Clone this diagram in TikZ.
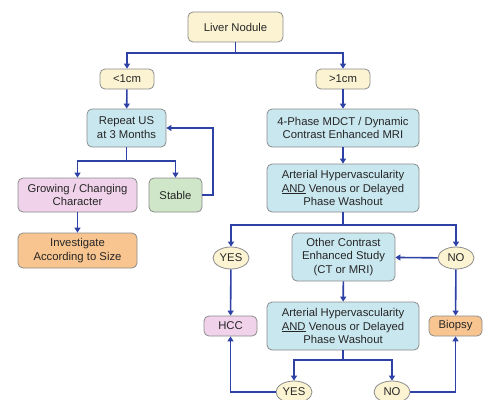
\documentclass[tikz,border=0pt]{standalone}
\usepackage{fontspec}
\setmainfont{Liberation Sans}
\usetikzlibrary{shapes.geometric,arrows.meta}
\definecolor{cream}{HTML}{FBF3D2}
\definecolor{cyanbox}{HTML}{C9E7EF}
\definecolor{pinkbox}{HTML}{F0D3EA}
\definecolor{greenbox}{HTML}{CFE7C8}
\definecolor{orangebox}{HTML}{F8C48F}
\definecolor{edge}{HTML}{8C8C8C}
\definecolor{arrowblue}{HTML}{2E42A6}
\begin{document}
\begin{tikzpicture}[x=1pt,y=-1pt,
  font=\fontsize{11.3}{13.8}\selectfont,
  box/.style={draw=edge,line width=0.8pt,rounded corners=5pt,align=center,inner sep=0pt,text=black!85},
  oval/.style={draw=edge,line width=0.8pt,ellipse,fill=cream,minimum width=36pt,minimum height=22pt,inner sep=0pt,text=black!85},
  arr/.style={draw=arrowblue,line width=1.6pt,-{Triangle[length=5pt,width=6pt]}},
  ln/.style={draw=arrowblue,line width=1.6pt}]
\useasboundingbox (0,0) rectangle (489,399);
\fill[white] (0,0) rectangle (489,399);

\node[box,fill=cream,minimum width=95pt,minimum height=30pt] (liver) at (235.5,27) {Liver Nodule};
\node[box,fill=cream,minimum width=54pt,minimum height=20pt] (lt) at (127,79) {<1cm};
\node[box,fill=cream,minimum width=54pt,minimum height=20pt] (gt) at (343,79) {>1cm};
\node[box,fill=cyanbox,minimum width=79pt,minimum height=38pt] (rep) at (126.5,128) {Repeat US\\at 3 Months};
\node[box,fill=cyanbox,minimum width=152pt,minimum height=38pt] (mdct) at (343,128) {4-Phase MDCT / Dynamic\\Contrast Enhanced MRI};
\node[box,fill=pinkbox,minimum width=119pt,minimum height=34pt] (grow) at (77.5,195) {Growing / Changing\\Character};
\node[box,fill=greenbox,minimum width=53pt,minimum height=34pt] (stab) at (175.5,195) {Stable};
\node[box,fill=orangebox,minimum width=119pt,minimum height=35pt] (inv) at (77.5,250.5) {Investigate\\According to Size};
\node[box,fill=cyanbox,minimum width=152pt,minimum height=48pt] (art1) at (343,188) {Arterial Hypervascularity\\\underline{AND} Venous or Delayed\\Phase Washout};
\node[oval] (yes1) at (231,258) {YES};
\node[oval] (no1) at (456,258) {NO};
\node[box,fill=cyanbox,minimum width=103pt,minimum height=48pt] (other) at (343.5,257) {Other Contrast\\Enhanced Study\\(CT or MRI)};
\node[box,fill=cyanbox,minimum width=152pt,minimum height=48pt] (art2) at (343,326) {Arterial Hypervascularity\\\underline{AND} Venous or Delayed\\Phase Washout};
\node[box,fill=pinkbox,minimum width=53pt,minimum height=20pt] (hcc) at (230.5,326) {HCC};
\node[box,fill=orangebox,minimum width=53pt,minimum height=20pt] (bio) at (455.5,326) {Biopsy};
\node[oval] (yes2) at (294,392) {YES};
\node[oval] (no2) at (392,392) {NO};

% connectors
\draw[ln] (liver.south) -- (235.5,53) coordinate (j1);
\draw[arr] (j1) -| (lt.north);
\draw[arr] (j1) -| (gt.north);
\draw[arr] (lt) -- (rep);
\draw[arr] (gt) -- (mdct);
\draw[ln] (rep.south) -- (126.5,161) coordinate (j2);
\draw[arr] (j2) -| (grow.north);
\draw[arr] (j2) -| (stab.north);
\draw[arr] (grow) -- (inv);
\draw[arr] (stab.east) -- (213,195) |- (rep.east);
\draw[arr] (mdct) -- (art1);
\draw[ln] (art1.south) -- (343,225) coordinate (j3);
\draw[arr] (j3) -| (yes1.north);
\draw[arr] (j3) -| (no1.north);
\draw[arr] (no1) -- (other);
\draw[arr] (other) -- (art2);
\draw[arr] (yes1) -- (hcc);
\draw[arr] (no1) -- (bio);
\draw[ln] (art2.south) -- (343,360) coordinate (j4);
\draw[arr] (j4) -| (yes2.north);
\draw[arr] (j4) -| (no2.north);
\draw[arr] (yes2.west) -| (hcc.south);
\draw[arr] (no2.east) -| (bio.south);
\end{tikzpicture}
\end{document}
